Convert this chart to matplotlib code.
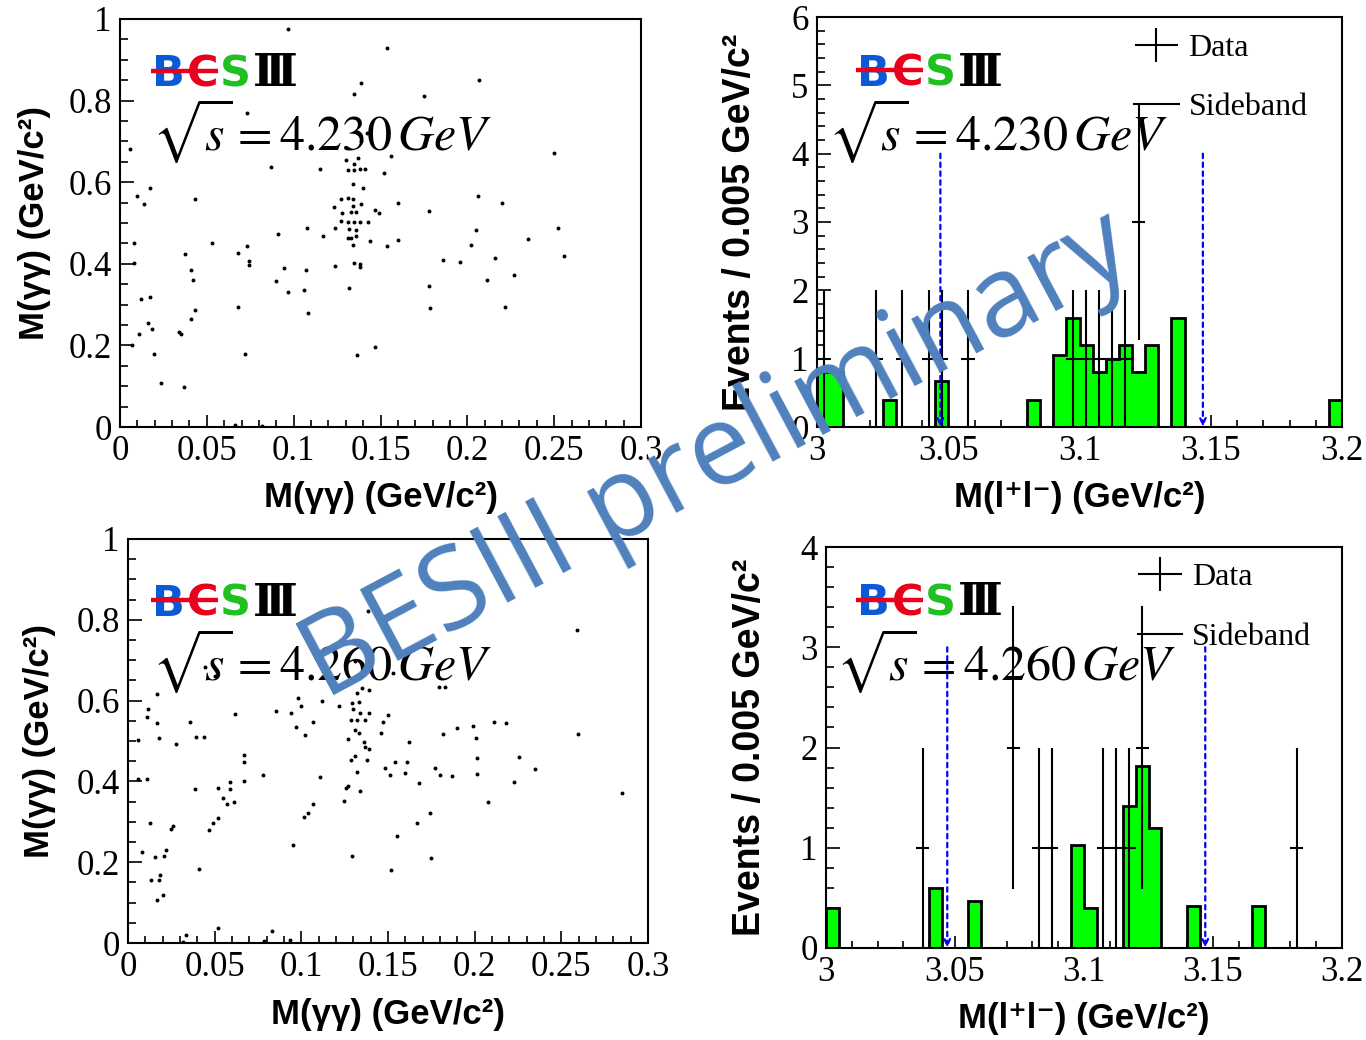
import numpy as np
import matplotlib
matplotlib.use('Agg')
import matplotlib.pyplot as plt
from matplotlib.font_manager import FontProperties
from matplotlib.ticker import MultipleLocator, FuncFormatter
from matplotlib.transforms import Affine2D, ScaledTranslation
from matplotlib.lines import Line2D
from matplotlib.legend_handler import HandlerErrorbar
from matplotlib.container import ErrorbarContainer

# ---------------- data ----------------
energy_labels = ['4.230', '4.260']

x_230 = [0.097,0.154,0.207,0.139,0.135,0.175,0.073,0.006,0.250,0.156,
         0.130,0.137,0.135,0.087,0.115,0.131,0.135,0.138,0.141,0.152,
         0.134,0.140,0.010,0.017,0.014,0.043,0.206,0.220,0.160,0.123,
         0.127,0.131,0.134,0.139,0.134,0.147,0.149,0.178,0.128,0.133,
         0.136,0.127,0.131,0.135,0.138,0.143,0.124,0.132,0.136,0.1075,
         0.205,0.252,0.091,0.117,0.131,0.133,0.136,0.144,0.160,0.235,
         0.008,0.053,0.073,0.134,0.154,0.202,0.0376,0.068,0.2554,0.216,
         0.186,0.0744,0.0744,0.008,0.196,0.135,0.138,0.138,0.124,0.041,
         0.0946,0.107,0.042,0.090,0.2116,0.227,0.178,0.132,0.106,0.097,
         0.012,0.0174,0.068,0.2215,0.1785,0.043,0.108,0.041,0.016,0.0187,
         0.034,0.035,0.011,0.007,0.147,0.0197,0.0717,0.1367,0.0234,0.037,
         0.066,0.082,0.142,0.139]
y_230 = [0.975,0.929,0.851,0.842,0.815,0.811,0.769,0.682,0.671,0.665,
         0.654,0.660,0.645,0.638,0.633,0.629,0.629,0.633,0.633,0.623,
         0.596,0.585,0.565,0.585,0.547,0.559,0.567,0.550,0.549,0.540,
         0.558,0.562,0.558,0.547,0.542,0.533,0.524,0.529,0.524,0.527,
         0.527,0.506,0.503,0.503,0.503,0.502,0.487,0.485,0.482,0.487,
         0.483,0.487,0.472,0.467,0.464,0.463,0.468,0.456,0.459,0.462,
         0.450,0.450,0.444,0.445,0.443,0.445,0.424,0.427,0.419,0.415,
         0.410,0.407,0.397,0.402,0.404,0.401,0.399,0.392,0.394,0.384,
         0.389,0.386,0.360,0.358,0.361,0.373,0.345,0.340,0.336,0.331,
         0.314,0.319,0.295,0.295,0.292,0.286,0.280,0.265,0.256,0.240,
         0.233,0.229,0.228,0.200,0.195,0.179,0.178,0.177,0.108,0.097,
         0.004,0.003,0.720,0.700]

x_260 = [0.1385,0.259,0.0444,0.050,0.131,0.1797,0.183,0.132,0.139,0.135,
         0.0167,0.098,0.112,0.100,0.1215,0.1295,0.133,0.0115,0.0856,0.094,
         0.0616,0.130,0.134,0.139,0.0107,0.150,0.1285,0.132,0.137,0.147,
         0.0167,0.036,0.107,0.2114,0.218,0.199,0.190,0.097,0.131,0.146,
         0.133,0.182,0.2595,0.102,0.039,0.044,0.018,0.127,0.0055,0.2006,
         0.162,0.136,0.0275,0.137,0.139,0.067,0.2256,0.2016,0.131,0.1285,
         0.138,0.067,0.154,0.161,0.148,0.177,0.235,0.132,0.160,0.2016,
         0.180,0.151,0.187,0.078,0.111,0.0057,0.011,0.067,0.2226,0.168,
         0.059,0.127,0.0387,0.052,0.126,0.059,0.134,0.285,0.0547,0.1245,
         0.0609,0.057,0.2076,0.107,0.104,0.174,0.1016,0.0517,0.049,0.0125,
         0.1667,0.0257,0.0247,0.047,0.155,0.0953,0.008,0.0217,0.0157,0.0205,
         0.129,0.1747,0.041,0.152,0.0187,0.0132,0.0177,0.020,0.0167,0.0517,
         0.0337,0.083,0.032,0.0786,0.0933,0.153]
y_260 = [0.823,0.774,0.682,0.660,0.698,0.633,0.633,0.619,0.626,0.630,
         0.616,0.606,0.599,0.587,0.587,0.593,0.596,0.579,0.574,0.569,
         0.566,0.579,0.569,0.570,0.559,0.564,0.551,0.552,0.552,0.548,
         0.544,0.546,0.546,0.548,0.544,0.536,0.533,0.534,0.528,0.521,
         0.520,0.518,0.517,0.516,0.511,0.511,0.508,0.505,0.502,0.507,
         0.497,0.497,0.493,0.485,0.479,0.466,0.461,0.457,0.462,0.454,
         0.454,0.448,0.448,0.448,0.433,0.433,0.430,0.423,0.420,0.418,
         0.416,0.415,0.413,0.415,0.410,0.405,0.405,0.402,0.398,0.396,
         0.398,0.389,0.381,0.383,0.384,0.380,0.376,0.372,0.360,0.352,
         0.349,0.343,0.348,0.344,0.323,0.323,0.311,0.309,0.296,0.296,
         0.297,0.290,0.282,0.279,0.264,0.243,0.225,0.231,0.214,0.215,
         0.216,0.211,0.184,0.180,0.169,0.156,0.156,0.120,0.107,0.036,
         0.020,0.030,0.003,0.005,0.008,0.668]

# M(l+l-) histograms, 40 bins of 0.005 GeV from 3.0 to 3.2
mll_lo, mll_hi, mll_bins = 3.0, 3.2, 40
sideband_230 = [0.8,0.8,0,0,0,0.4,0,0,0,0.68,
                0,0,0,0,0,0,0.4,0,1.05,1.6,
                1.2,0.8,1.0,1.2,0.8,1.2,0,1.6,0,0,
                0,0,0,0,0,0,0,0,0,0.4]
data_230 = [1,0,0,0,1,0,1,0,1,1,
            0,1,0,0,0,0,0,0,0,1,
            1,1,1,1,3,0,0,0,0,0,
            0,0,0,0,0,0,0,0,0,0]
sideband_260 = [0.4,0,0,0,0,0,0,0,0.6,0,
                0,0.47,0,0,0,0,0,0,0,1.03,
                0.4,0,0,1.42,1.82,1.2,0,0,0.42,0,
                0,0,0,0.42,0,0,0,0,0,0]
data_260 = [0,0,0,0,0,0,0,1,0,0,
            0,0,0,0,2,0,1,1,0,0,
            0,1,1,1,2,0,0,0,0,0,
            0,0,0,0,0,0,1,0,0,0]
signal_window = [3.047, 3.147]
arrow_tops = [4, 3]

# ---------------- style ----------------
W, H = 1366, 1040
fig = plt.figure(figsize=(W / 100, H / 100), dpi=100)

SERIF = ['Liberation Serif', 'DejaVu Serif']
SANS = ['Liberation Sans', 'DejaVu Sans']
GREEN = '#00ff00'
WATER = '#4F81BD'


def fmt(v, p):
    return '%g' % round(v, 4)


def px_axes(rect_px):
    l, t, r, b = rect_px
    return fig.add_axes([l / W, 1 - b / H, (r - l) / W, (b - t) / H])


def style_axes(ax, xlim, ylim, xmaj, xmin, ymaj, ymin):
    ax.set_xlim(*xlim)
    ax.set_ylim(*ylim)
    ax.xaxis.set_major_locator(MultipleLocator(xmaj))
    ax.xaxis.set_minor_locator(MultipleLocator(xmin))
    ax.yaxis.set_major_locator(MultipleLocator(ymaj))
    ax.yaxis.set_minor_locator(MultipleLocator(ymin))
    ax.xaxis.set_major_formatter(FuncFormatter(fmt))
    ax.yaxis.set_major_formatter(FuncFormatter(fmt))
    ax.tick_params(which='both', direction='in', top=False, right=False,
                   width=1.2, labelsize=25, labelfontfamily='Liberation Serif')
    ax.tick_params(axis='x', which='major', length=8.5, pad=6)
    ax.tick_params(axis='x', which='minor', length=5)
    ax.tick_params(axis='y', which='major', length=10, pad=6)
    ax.tick_params(axis='y', which='minor', length=5.5)
    for s in ax.spines.values():
        s.set_linewidth(1.5)


def set_labels(ax, xlabel, ylabel, xl_y, yl_x, ysize=25):
    ax.set_xlabel(xlabel, family=SANS, weight='bold', fontsize=25, va='center')
    ax.set_ylabel(ylabel, family=SANS, weight='bold', fontsize=ysize, va='center')
    ax.xaxis.set_label_coords(0.5, xl_y)
    ax.yaxis.set_label_coords(yl_x, 0.5)


def draw_logo(ax, x0, y0):
    # anchor at logo baseline-left, offsets in pixels
    tr = Affine2D().scale(fig.dpi / 100.0) + ScaledTranslation(x0, y0, ax.transAxes)
    fp = FontProperties(family='DejaVu Sans', weight='bold', size=31)
    letters = [('B', '#0a5ad8', 16.5), ('C', '#e8001c', 50.5), ('S', '#1fc01f', 83.5)]
    for ch, col, cx in letters:
        ax.text(cx, 0, ch, transform=tr, fontproperties=fp, color=col,
                ha='center', va='baseline', zorder=6)
    ax.text(101, 0, '\u2162', transform=tr, color='black', ha='left',
            va='baseline', fontsize=32, weight='bold',
            family=['DejaVu Serif', 'Noto Sans CJK SC'], zorder=6)
    ax.add_line(Line2D([-1, 66], [15.5, 15.5], transform=tr, color='#e8001c',
                       lw=3.2, solid_capstyle='butt', zorder=7))


def draw_energy(ax, x, y, e):
    ax.text(x, y, r'$\sqrt{s} = ' + e + r'\,GeV$', transform=ax.transAxes,
            fontsize=36, math_fontfamily='stix', ha='left', va='baseline', zorder=6)


edges = np.linspace(mll_lo, mll_hi, mll_bins + 1)
centers = 0.5 * (edges[:-1] + edges[1:])
half_w = 0.5 * (edges[1] - edges[0])


def draw_hist(ax, sideband, data, top, leg_top):
    sb = np.asarray(sideband, float)
    d = np.asarray(data, float)
    ax.stairs(sb, edges, fill=True, color=GREEN, lw=0, zorder=2)
    ax.stairs(sb, edges, fill=False, color='black', lw=2.0, baseline=0, zorder=3)
    m = d > 0
    eb = ax.errorbar(centers[m], d[m], xerr=half_w, yerr=np.sqrt(d[m]), fmt='none',
                     ecolor='black', elinewidth=1.5, capsize=0, zorder=4)
    for xc in signal_window:
        ax.annotate('', xy=(xc, 0), xytext=(xc, top),
                    arrowprops=dict(arrowstyle='->,head_length=0.45,head_width=0.2',
                                    color='blue', lw=1.6, ls=(0, (2, 2)),
                                    shrinkA=0, shrinkB=0), zorder=5)
    sbh = Line2D([], [], color='black', lw=1.5)
    ax.legend(handles=[eb, sbh], labels=['Data', 'Sideband'], loc='upper left',
              bbox_to_anchor=(0.604, leg_top), frameon=False,
              prop={'family': SERIF, 'size': 23}, handlelength=1.4,
              handletextpad=0.3, labelspacing=0.95, borderpad=0, borderaxespad=0,
              handler_map={ErrorbarContainer: HandlerErrorbar(xerr_size=0.68, yerr_size=0.53)})


# ---------------- panels ----------------
ax1 = px_axes((120, 19, 641, 427))
ax2 = px_axes((817, 17, 1342, 427))
ax3 = px_axes((128, 539, 648, 943))
ax4 = px_axes((826, 547, 1342, 948))

mgg_label = 'M(\u03b3\u03b3) (GeV/c\u00b2)'
mll_label = 'M(l\u207al\u207b) (GeV/c\u00b2)'
ev_label = 'Events / 0.005 GeV/c\u00b2'

for ax, xs, ys, e, xl_y, yl_x, lx, ly, ex, ey in [
        (ax1, x_230, y_230, energy_labels[0], -0.172, -85 / 521, 0.061, 0.835, 0.061, 0.68),
        (ax3, x_260, y_260, energy_labels[1], -0.178, -88 / 520, 0.046, 0.81, 0.046, 0.651)]:
    style_axes(ax, (0, 0.3), (0, 1), 0.05, 0.01, 0.2, 0.05)
    ax.scatter(xs, ys, s=8, c='black', linewidths=0, zorder=3)
    set_labels(ax, mgg_label, mgg_label, xl_y, yl_x)
    draw_logo(ax, lx, ly)
    draw_energy(ax, ex, ey, e)

style_axes(ax2, (mll_lo, mll_hi), (0, 6), 0.05, 0.01, 1, 0.2)
draw_hist(ax2, sideband_230, data_230, arrow_tops[0], 0.96)
set_labels(ax2, mll_label, ev_label, -0.172, -77 / 525, ysize=27)
draw_logo(ax2, 0.076, 0.832)
draw_energy(ax2, 0.021, 0.676, energy_labels[0])

style_axes(ax4, (mll_lo, mll_hi), (0, 4), 0.05, 0.01, 1, 0.2)
draw_hist(ax4, sideband_260, data_260, arrow_tops[1], 0.96)
set_labels(ax4, mll_label, ev_label, -0.175, -76 / 516, ysize=27)
draw_logo(ax4, 0.060, 0.83)
draw_energy(ax4, 0.019, 0.668, energy_labels[1])

# watermark
fig.text(717 / W, 1 - 458 / H, 'BESIII preliminary', rotation=28, color=WATER,
         fontsize=81, family=['Open Sans', 'DejaVu Sans'], ha='center', va='center',
         rotation_mode='anchor', zorder=10)

fig.savefig('out.png', dpi=100)
